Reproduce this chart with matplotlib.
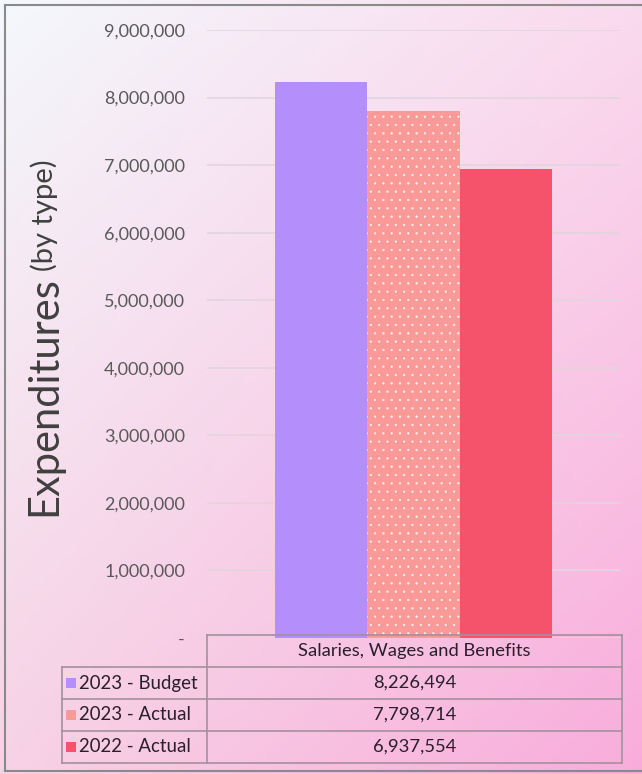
import numpy as np
import matplotlib
matplotlib.use("Agg")
import matplotlib.pyplot as plt
from matplotlib.lines import Line2D
from matplotlib.patches import Rectangle
from matplotlib.ticker import FuncFormatter

# ---- data ----
category = "Salaries, Wages and Benefits"
series_names = ["2023 - Budget", "2023 - Actual", "2022 - Actual"]
series_values = [8226494, 7798714, 6937554]
series_colors = ["#b48ffb", "#f99a98", "#f5536c"]
series_hatches = [None, "..", None]
y_ticks = [0, 1000000, 2000000, 3000000, 4000000, 5000000,
           6000000, 7000000, 8000000, 9000000]

W, H = 642, 774
plt.rcParams["font.family"] = ["Lato", "DejaVu Sans"]
plt.rcParams["hatch.linewidth"] = 0.4

fig = plt.figure(figsize=(W / 100, H / 100), dpi=100)


def px(x0, y0, x1, y1):
    """Pixel box (top-left origin) -> figure rect."""
    return [x0 / W, 1 - y1 / H, (x1 - x0) / W, (y1 - y0) / H]


def fx(x):
    return x / W


def fy(y):
    return 1 - y / H


# ---- gradient background ----
bg = fig.add_axes([0, 0, 1, 1], zorder=-10)
tl = np.array([244, 248, 252]) / 255
tr = np.array([250, 218, 238]) / 255
bl = np.array([247, 210, 229]) / 255
br = np.array([249, 172, 219]) / 255
u = np.linspace(0, 1, 200)[None, :, None]
v = np.linspace(0, 1, 240)[:, None, None]
img = (1 - v) * ((1 - u) * tl + u * tr) + v * ((1 - u) * bl + u * br)
bg.imshow(img, aspect="auto", extent=[0, 1, 0, 1], origin="upper")
bg.set_axis_off()

# frame of the panel
for xs, ys in [((5, 642), (5, 5)), ((5, 5), (5, 771)), ((5, 642), (771, 771))]:
    fig.add_artist(Line2D([fx(xs[0]), fx(xs[1])], [fy(ys[0]), fy(ys[1])],
                          color="#8a8a8a", lw=1.5))

# ---- bar chart ----
ax = fig.add_axes(px(207, 30, 620, 638))
ax.set_facecolor("none")
n = len(series_values)
width = 0.223
offsets = (np.arange(n) - (n - 1) / 2) * width
for off, val, col, hat in zip(offsets, series_values, series_colors, series_hatches):
    if hat:
        ax.bar(off, val, width=width, color=col, edgecolor=(1, 1, 1, 0.8),
               linewidth=0, hatch=hat, zorder=3)
    else:
        ax.bar(off, val, width=width, color=col, linewidth=0, zorder=3)

ax.set_xlim(-0.5, 0.5)
ax.set_ylim(0, 9000000)
ax.set_yticks(y_ticks)
ax.yaxis.set_major_formatter(FuncFormatter(
    lambda v, p: "-" if v == 0 else f"{int(v):,}"))
ax.tick_params(axis="y", length=0, pad=15.8, labelsize=13, labelcolor="#595959")
ax.set_xticks([])
ax.grid(axis="y", color="#e2d6df", lw=1.2, zorder=0)
for s in ax.spines.values():
    s.set_visible(False)

# ---- y axis title (two sizes) ----
t1 = fig.text(fx(44), fy(516), "Expenditures", rotation=90, rotation_mode="anchor",
              ha="left", va="center", fontsize=30, color="#404040")
fig.canvas.draw()
bb = t1.get_window_extent()
fig.text(fx(44), bb.y1 / H + 5 / H, "(by type)", rotation=90, rotation_mode="anchor",
         ha="left", va="center", fontsize=21, color="#404040")

# ---- data table ----
line_kw = dict(color="#a3909f", lw=1.2)
row_y = [635, 667, 699, 731, 763]

# header row (no cell above the legend column)
fig.add_artist(Line2D([fx(207), fx(622)], [fy(635), fy(635)], **line_kw))
for y in row_y[1:]:
    fig.add_artist(Line2D([fx(62), fx(622)], [fy(y), fy(y)], **line_kw))
fig.add_artist(Line2D([fx(207), fx(207)], [fy(635), fy(763)], **line_kw))
fig.add_artist(Line2D([fx(622), fx(622)], [fy(635), fy(763)], **line_kw))
fig.add_artist(Line2D([fx(62), fx(62)], [fy(667), fy(763)], **line_kw))

txt_color = "#2a1f2c"
fig.text(fx(414.5), fy((row_y[0] + row_y[1]) / 2), category,
         ha="center", va="center", fontsize=13.2, color=txt_color)

for i, (name, val, col, hat) in enumerate(zip(series_names, series_values,
                                              series_colors, series_hatches)):
    yc = (row_y[i + 1] + row_y[i + 2]) / 2
    sq = Rectangle((fx(66), fy(yc + 5)), 10 / W, 10 / H, transform=fig.transFigure,
                   facecolor=col, linewidth=0)
    fig.add_artist(sq)
    fig.text(fx(79), fy(yc), name, ha="left", va="center",
             fontsize=13.4, color=txt_color)
    fig.text(fx(414.5), fy(yc), f"{val:,}", ha="center", va="center",
             fontsize=13.2, color=txt_color)

fig.savefig("out.png", dpi=100)
